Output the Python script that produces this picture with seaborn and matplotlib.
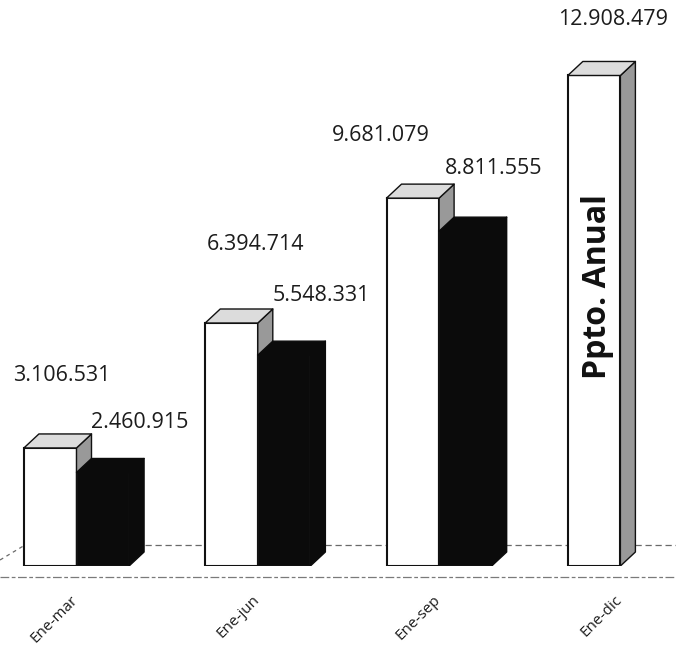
import numpy as np
import pandas as pd
import matplotlib
matplotlib.use("Agg")
import matplotlib.pyplot as plt
import seaborn as sns
from matplotlib.patches import Polygon
from matplotlib.transforms import ScaledTranslation

# --- data -------------------------------------------------------------
periodos = ["Ene-mar", "Ene-jun", "Ene-sep", "Ene-dic"]
presupuesto = [3106531, 6394714, 9681079, 12908479]
ejecutado = [2460915, 5548331, 8811555, np.nan]
series = ["Presupuesto", "Ejecutado"]
texto_anual = "Ppto. Anual"

df = pd.DataFrame({
    "Periodo": periodos * 2,
    "Serie": [series[0]] * len(periodos) + [series[1]] * len(periodos),
    "Monto": presupuesto + ejecutado,
})


def miles(v):
    return f"{v:,.0f}".replace(",", ".")


# --- layout -----------------------------------------------------------
W, H, DPI = 676, 647, 100
BASE_PX = 566          # pixel row of the bar baseline
PX_PER_CAT = 181.3     # pixels between category centres
PX_PER_MILLION = 38.0  # vertical pixels per million
X0_PX = 76.5           # pixel column of the first category centre
DEPTH_PX = (15, 14)    # 3-D extrusion of the columns

# label offsets (pixels, up positive) from the front-top centre of each bar
OFF_PRES = [(12, 72), (24, 79), (-32, 63), (19, 56)]
OFF_EJEC = [(37, 50), (37, 60), (28, 63)]

sns.set_theme(style="white")
plt.rcParams["font.family"] = ["Open Sans", "DejaVu Sans"]

fig = plt.figure(figsize=(W / DPI, H / DPI), dpi=DPI)
fig.patch.set_facecolor("white")
ax = fig.add_axes([0, (H - BASE_PX) / H, 1, BASE_PX / H])

sns.barplot(
    data=df, x="Periodo", y="Monto", hue="Serie",
    order=periodos, hue_order=series,
    palette={"Presupuesto": "white", "Ejecutado": "#0b0b0b"},
    width=0.58, errorbar=None, saturation=1, legend=False,
    linewidth=1.5, edgecolor="#111111", ax=ax,
)

ax.set_xlim(-X0_PX / PX_PER_CAT, (W - X0_PX) / PX_PER_CAT)
ax.set_ylim(0, BASE_PX / PX_PER_MILLION * 1e6)
ax.set_facecolor("white")
for s in ax.spines.values():
    s.set_visible(False)
ax.set_xlabel("")
ax.set_ylabel("")
ax.set_yticks([])

# depth of the extrusion in data units
o = ax.transData.transform((0, 0))
ddx, ddy = ax.transData.inverted().transform(o + np.array(DEPTH_PX)) - np.array([0.0, 0.0])

# floor lines
trans_back = ax.transAxes + ScaledTranslation(0, 21 / DPI, fig.dpi_scale_trans)
trans_front = ax.transAxes + ScaledTranslation(0, -11 / DPI, fig.dpi_scale_trans)
ax.plot([25 / W, 1], [0, 0], transform=trans_back, color="#6a6a6a", lw=0.9,
        ls=(0, (5, 3)), zorder=0.5, clip_on=False)
ax.plot([0, 25 / W], [-15 / BASE_PX, 0], transform=trans_back, color="#6a6a6a",
        lw=0.9, ls=(0, (3, 3)), zorder=0.5, clip_on=False)
ax.plot([0, 1], [0, 0], transform=trans_front, color="#7a7a7a", lw=0.9,
        ls=(0, (7, 2, 3, 2)), zorder=0.5, clip_on=False)

face_styles = [
    dict(top="#dcdcdc", side="#999999", edge="#111111", z=2),
    dict(top="#0b0b0b", side="#0b0b0b", edge="#0b0b0b", z=3),
]

for k, cont in enumerate(ax.containers):
    st = face_styles[k]
    for bar in cont:
        h = bar.get_height()
        if not np.isfinite(h) or h <= 0:
            continue
        x, w = bar.get_x(), bar.get_width()
        bar.set_zorder(st["z"])
        top = Polygon([(x, h), (x + w, h), (x + w + ddx, h + ddy), (x + ddx, h + ddy)],
                      closed=True, facecolor=st["top"], edgecolor=st["edge"],
                      lw=1.0, zorder=st["z"] + 0.1, joinstyle="round")
        side = Polygon([(x + w, 0), (x + w, h), (x + w + ddx, h + ddy), (x + w + ddx, ddy)],
                       closed=True, facecolor=st["side"], edgecolor=st["edge"],
                       lw=1.0, zorder=st["z"] + 0.1, joinstyle="round")
        ax.add_patch(side)
        ax.add_patch(top)

# value labels
text_kw = dict(textcoords="offset pixels", ha="center", va="center",
               fontsize=15.5, color="#1c1c1c", zorder=5, annotation_clip=False)
for bar, v, off in zip(ax.containers[0], presupuesto, OFF_PRES):
    ax.annotate(miles(v), (bar.get_x() + bar.get_width() / 2, v), xytext=off, **text_kw)
ej_bars = [b for b in ax.containers[1] if np.isfinite(b.get_height()) and b.get_height() > 0]
ej_vals = [v for v in ejecutado if np.isfinite(v)]
for bar, v, off in zip(ej_bars, ej_vals, OFF_EJEC):
    ax.annotate(miles(v), (bar.get_x() + bar.get_width() / 2, v), xytext=off, **text_kw)

# annual budget caption inside the last column
last = ax.containers[0][-1]
ax.annotate(texto_anual, (last.get_x() + last.get_width() / 2, presupuesto[-1] * 0.57),
            xytext=(3, 0), textcoords="offset pixels", rotation=90,
            ha="center", va="center", fontsize=23, fontweight="bold",
            color="#111111", zorder=6)

# category labels
ax.set_xticks(range(len(periodos)))
ax.set_xticklabels(periodos, rotation=45, ha="right", va="top",
                   rotation_mode="anchor", fontsize=11, color="#1c1c1c")
ax.tick_params(axis="x", length=0, pad=19)
shift = ScaledTranslation(-6 / DPI, 0, fig.dpi_scale_trans)
for lab in ax.get_xticklabels():
    lab.set_transform(lab.get_transform() + shift)

fig.savefig("out.png", dpi=DPI, facecolor="white")
